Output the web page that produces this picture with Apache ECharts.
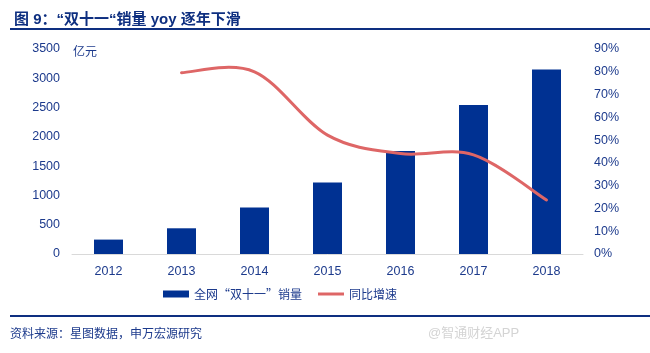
<!DOCTYPE html>
<html>
<head>
<meta charset="utf-8">
<script src="https://cdn.jsdelivr.net/npm/echarts@6/dist/echarts.min.js"></script>
<style>
  html, body { margin: 0; padding: 0; background: #fff; }
  #chart { width: 650px; height: 353px; }
</style>
</head>
<body>
<div id="chart"></div>
<script>
// 年份
var years = ['2012', '2013', '2014', '2015', '2016', '2017', '2018'];
// 全网“双十一”销量（亿元）
var sales = [246, 439, 792, 1219, 1759, 2544, 3148];
// 同比增速（2012 无数据）
var growth = [null, 0.796, 0.80, 0.522, 0.441, 0.435, 0.237];

var blue = '#003192';
var red = '#de6666';
var txt = '#1c3a8c';
var font = '"Liberation Sans", "Noto Sans CJK SC", sans-serif';
var cjkFont = '"Noto Sans CJK SC", sans-serif';

// 折线点：[类目序号, 增速]
var growthPts = [];
growth.forEach(function (v, i) {
    if (v != null) growthPts.push([i, v]);
});

// Excel 式平滑曲线（允许越过端点）
function smoothPath(pts) {
    var d = 'M' + pts[0][0] + ' ' + pts[0][1];
    for (var i = 0; i < pts.length - 1; i++) {
        var p0 = pts[Math.max(i - 1, 0)];
        var p1 = pts[i];
        var p2 = pts[i + 1];
        var p3 = pts[Math.min(i + 2, pts.length - 1)];
        var c1x = p1[0] + (p2[0] - p0[0]) / 6, c1y = p1[1] + (p2[1] - p0[1]) / 6;
        var c2x = p2[0] - (p3[0] - p1[0]) / 6, c2y = p2[1] - (p3[1] - p1[1]) / 6;
        d += ' C' + c1x + ' ' + c1y + ' ' + c2x + ' ' + c2y + ' ' + p2[0] + ' ' + p2[1];
    }
    return d;
}

var option = {
    animation: false,
    textStyle: { fontFamily: font },
    title: {
        text: '图 9：“双十一“销量 yoy 逐年下滑',
        left: 9,
        top: 7,
        textStyle: { color: '#0e2f80', fontSize: 15, fontWeight: 'bold', fontFamily: font }
    },
    grid: { left: 72, right: 67, top: 49, bottom: 99 },
    legend: {
        bottom: 48,
        left: 158,
        itemGap: 16,
        itemWidth: 26,
        itemHeight: 7,
        textStyle: { color: txt, fontSize: 12, fontFamily: cjkFont },
        data: [
            { name: '全网“双十一”销量', icon: 'rect' },
            { name: '同比增速', icon: 'path://M0,0L26,0L26,3L0,3Z', itemStyle: { color: red } }
        ]
    },
    xAxis: {
        type: 'category',
        data: years,
        axisLine: { lineStyle: { color: '#d9d9d9', width: 1 } },
        axisTick: { show: false },
        axisLabel: { color: txt, fontSize: 12.5, margin: 11 }
    },
    yAxis: [{
        type: 'value',
        min: 0, max: 3500, interval: 500,
        name: '亿元',
        nameLocation: 'end',
        nameGap: -10,
        nameTextStyle: { color: txt, fontSize: 12, align: 'left', padding: [0, 0, 0, 1] },
        splitLine: { show: false },
        axisLine: { show: false },
        axisTick: { show: false },
        axisLabel: {
            color: txt, fontSize: 12.5, margin: 12,
            formatter: function (v) { return String(v); }
        }
    }, {
        type: 'value',
        min: 0, max: 0.9, interval: 0.1,
        splitLine: { show: false },
        axisLine: { show: false },
        axisTick: { show: false },
        axisLabel: {
            color: txt, fontSize: 12.5, margin: 11,
            formatter: function (v) { return Math.round(v * 100) + '%'; }
        }
    }],
    series: [{
        name: '全网“双十一”销量',
        type: 'bar',
        data: sales,
        barWidth: 29,
        itemStyle: { color: blue }
    }, {
        name: '同比增速',
        type: 'custom',
        yAxisIndex: 1,
        data: growthPts,
        itemStyle: { color: red },
        z: 3,
        renderItem: function (params, api) {
            if (params.dataIndex !== 0) return null;
            var pts = growthPts.map(function (p) { return api.coord(p); });
            return {
                type: 'path',
                shape: { pathData: smoothPath(pts) },
                style: { fill: 'none', stroke: red, lineWidth: 3, lineCap: 'round' }
            };
        }
    }],
    graphic: [
        { type: 'rect', shape: { x: 10, y: 28, width: 640, height: 2 }, style: { fill: '#0e2f80' } },
        { type: 'rect', shape: { x: 10, y: 315, width: 640, height: 2 }, style: { fill: '#0e2f80' } },
        {
            type: 'text', left: 10, top: 327,
            style: { text: '资料来源：星图数据，申万宏源研究', fill: txt, font: '12px ' + cjkFont }
        },
        {
            type: 'text', left: 428, top: 327,
            style: { text: '@智通财经APP', fill: '#d4d4d4', font: '13px ' + font }
        }
    ]
};

var chart = echarts.init(document.getElementById('chart'));
chart.setOption(option);
</script>
</body>
</html>
